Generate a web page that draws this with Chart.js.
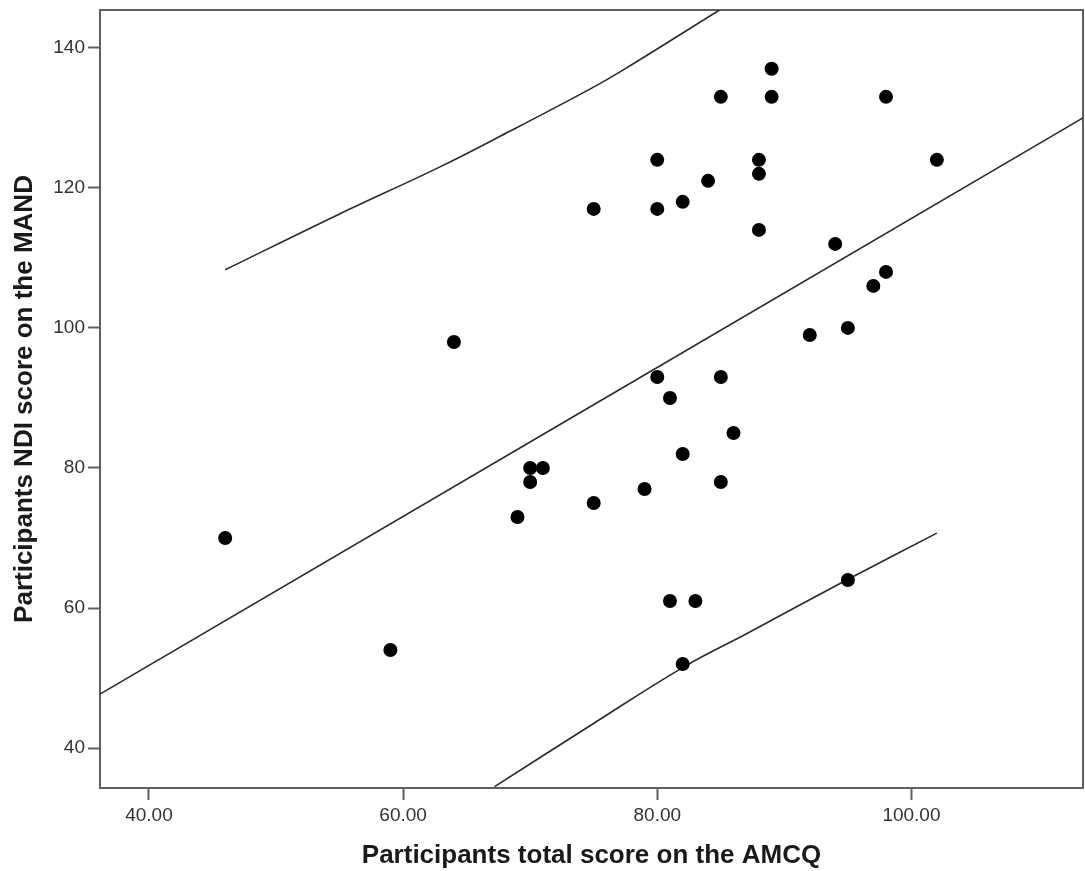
<!DOCTYPE html>
<html>
<head>
<meta charset="utf-8">
<script src="https://cdn.jsdelivr.net/npm/chart.js@4"></script>
<style>
  body { margin: 0; background: #fff; }
  #wrap { width: 1085px; height: 871px; position: relative; }
</style>
</head>
<body>
<div id="wrap"><canvas id="scatter-canvas"></canvas></div>
<script>
// participants
var amcqScores = [46, 59, 64, 69, 70, 70, 71, 75, 75, 79, 80, 80, 80, 81, 81, 82, 82, 82, 83, 84, 85, 85, 85, 86, 88, 88, 88, 89, 89, 92, 94, 95, 95, 97, 98, 98, 102];
var ndiScores  = [70, 54, 98, 73, 80, 78, 80, 117, 75, 77, 124, 117, 93, 90, 61, 118, 82, 52, 61, 121, 133, 93, 78, 85, 124, 122, 114, 137, 133, 99, 112, 100, 64, 106, 133, 108, 124];

// fit line and prediction interval curves
var fitX = [36.15, 113.5];
var fitY = [47.7, 130.0];
var upperX = [46.0, 54.8, 62.9, 68.2, 74.7, 77.1, 84.9];
var upperY = [108.3, 116.1, 123.0, 127.9, 134.1, 136.6, 145.4];
var lowerX = [67.2, 74.8, 82.1, 87.1, 94.9, 102.0];
var lowerY = [34.5, 43.3, 51.6, 56.4, 64.0, 70.7];

var xTicks = [40, 60, 80, 100];
var yTicks = [40, 60, 80, 100, 120, 140];

function pairs(xs, ys){
    var out = [];
    for(var i=0;i<xs.length;i++){
        out.push({x: xs[i], y: ys[i]});
    }
    return out;
}

var frameColor = "#5f5f5f";
var tickFont = { family: "'Liberation Sans', Arial, sans-serif", size: 19, lineHeight: 1 };
var titleFont = { family: "'Liberation Sans', Arial, sans-serif", size: 26, weight: "bold", lineHeight: 1 };

// box round the plot area
var framePlugin = {
    id: "frame",
    beforeDatasetsDraw: function(chart){
        var a = chart.chartArea;
        var c = chart.ctx;
        c.save();
        c.strokeStyle = frameColor;
        c.lineWidth = 2;
        c.strokeRect(a.left, a.top, a.right - a.left, a.bottom - a.top);
        c.restore();
    }
};

var lineStyle = {
    showLine: true,
    pointRadius: 0,
    borderColor: "#2a2a2a",
    borderWidth: 1.6,
    backgroundColor: "transparent",
    tension: 0.4,
    fill: false
};

var chart = new Chart(document.getElementById("scatter-canvas"), {
    type: "scatter",
    data: {
        datasets: [
            {
                label: "Participants",
                data: pairs(amcqScores, ndiScores),
                backgroundColor: "#000",
                borderColor: "#000",
                borderWidth: 0,
                pointRadius: 7
            },
            Object.assign({ label: "Fit", data: pairs(fitX, fitY) }, lineStyle),
            Object.assign({ label: "Upper", data: pairs(upperX, upperY) }, lineStyle),
            Object.assign({ label: "Lower", data: pairs(lowerX, lowerY) }, lineStyle)
        ]
    },
    options: {
        responsive: true,
        maintainAspectRatio: false,
        animation: false,
        layout: { autoPadding: false, padding: { top: 10, right: 2, left: 0, bottom: 0 } },
        plugins: {
            legend: { display: false },
            tooltip: { enabled: false }
        },
        scales: {
            x: {
                type: "linear",
                min: 36.15,
                max: 113.5,
                afterFit: function(s){
                    s.height = 83;
                    s.paddingLeft = 0;
                    s.paddingRight = 0;
                },
                afterBuildTicks: function(s){
                    s.ticks = xTicks.map(function(v){ return {value: v}; });
                },
                grid: {
                    drawOnChartArea: false,
                    drawTicks: true,
                    tickLength: 12,
                    tickWidth: 2,
                    tickColor: frameColor
                },
                border: { display: false },
                ticks: {
                    font: tickFont,
                    color: "#333",
                    padding: 6,
                    maxRotation: 0,
                    callback: function(v){ return Number(v).toFixed(2); }
                },
                title: {
                    display: true,
                    text: "Participants total score on the AMCQ",
                    font: titleFont,
                    color: "#1a1a1a",
                    padding: { top: 0, bottom: 2 }
                }
            },
            y: {
                type: "linear",
                min: 34.3,
                max: 145.4,
                afterFit: function(s){
                    s.width = 100;
                    s.paddingTop = 0;
                    s.paddingBottom = 0;
                },
                afterBuildTicks: function(s){
                    s.ticks = yTicks.map(function(v){ return {value: v}; });
                },
                grid: {
                    drawOnChartArea: false,
                    drawTicks: true,
                    tickLength: 12,
                    tickWidth: 2,
                    tickColor: frameColor
                },
                border: { display: false },
                ticks: {
                    font: tickFont,
                    color: "#333",
                    padding: 3
                },
                title: {
                    display: true,
                    text: "Participants NDI score on the MAND",
                    font: titleFont,
                    color: "#1a1a1a",
                    padding: { top: 12, bottom: 0 }
                }
            }
        }
    },
    plugins: [framePlugin]
});
</script>
</body>
</html>
